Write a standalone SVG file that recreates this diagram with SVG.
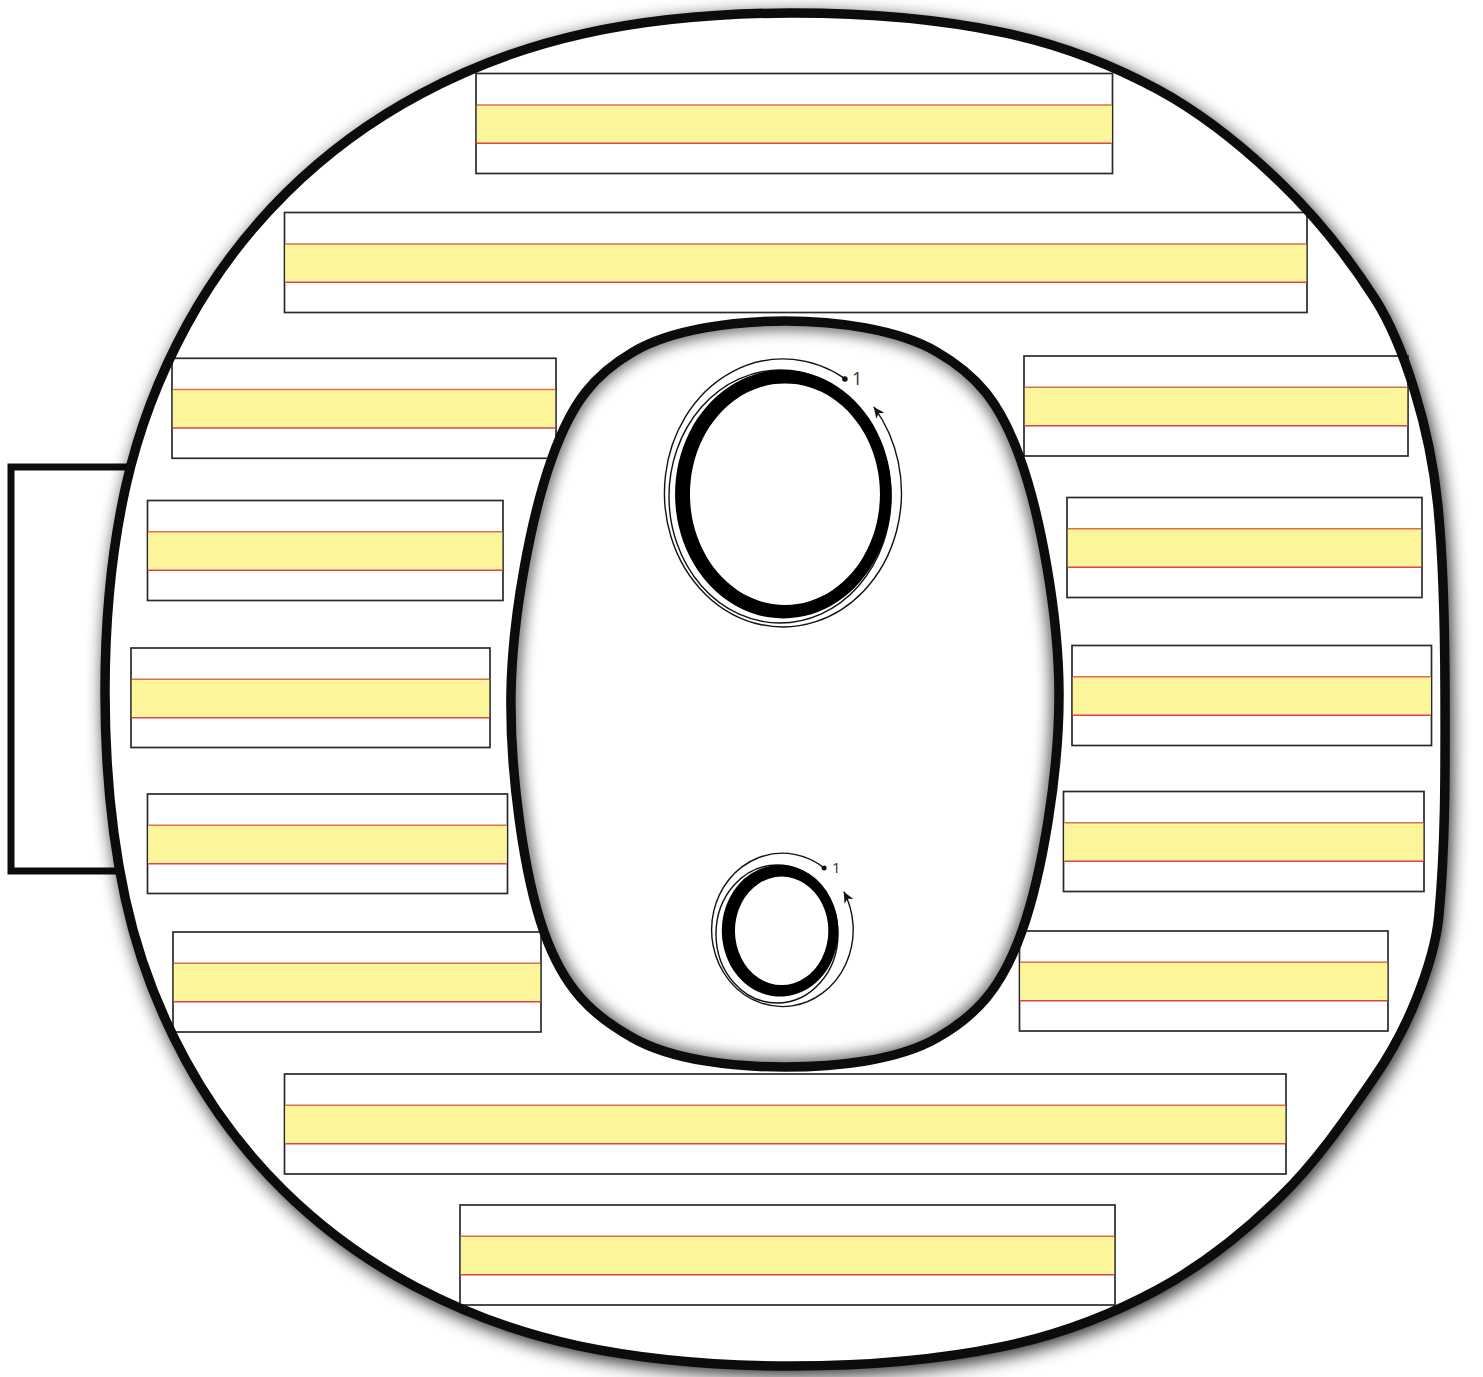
<svg xmlns="http://www.w3.org/2000/svg" width="1483" height="1377" viewBox="0 0 1483 1377">
<style>
.box{fill:#fff;stroke:#2a2a2a;stroke-width:1.7}
.band{fill:#fdf59a}
.rt{stroke:#d9704e;stroke-width:1.6}
.rb{stroke:#e0404a;stroke-width:1.5}
.ostroke{fill:none;stroke:#0c0c0c;stroke-width:9.5}
.thin{fill:none;stroke:#111;stroke-width:1.4}
.num{font-family:"Open Sans","Liberation Sans",sans-serif;fill:#333}
</style>
<defs>
<filter id="sh" x="-10%" y="-10%" width="120%" height="120%">
<feGaussianBlur in="SourceAlpha" stdDeviation="9"/>
<feOffset dx="3" dy="5" result="b"/>
<feComponentTransfer><feFuncA type="linear" slope="0.85"/></feComponentTransfer>
</filter>
<filter id="ish" x="-10%" y="-10%" width="120%" height="120%">
<feGaussianBlur in="SourceAlpha" stdDeviation="8"/>
<feComponentTransfer><feFuncA type="linear" slope="0.75"/></feComponentTransfer>
</filter>
<marker id="ah" markerWidth="12" markerHeight="10" refX="11" refY="5" orient="auto" markerUnits="userSpaceOnUse">
<path d="M0,0 L11,5 L0,10 L3,5 Z" fill="#111"/>
</marker>
<path id="outerP" d="M790,13 C860.8,12.8 933.4,18 1002.4,32.3 C1055.9,43.4 1109.7,63.5 1157.6,89.4 C1202.4,113.6 1243.9,147.3 1280.7,182.8 C1316.3,217 1348.1,257 1374.7,298.4 C1392.8,326.5 1404.9,359.3 1414.7,391.4 C1425.9,427.8 1433.8,465.9 1437.7,503.9 C1444,565.5 1444.8,627.9 1445,690 C1445.2,765.5 1445.8,841.6 1438.8,916.3 C1436.1,944.9 1426.7,973.2 1416,999.8 C1405,1027.2 1390.6,1053.9 1373.8,1078.3 C1345.5,1119.5 1316.3,1161.7 1280.7,1196.5 C1244.2,1232.2 1202.4,1265.5 1157.6,1289.7 C1109.6,1315.6 1055.9,1335.6 1002.4,1346.7 C933.4,1361 860.8,1366.1 790,1366 C719.5,1365.9 647.2,1360.4 578.5,1345.9 C522.3,1334 465.8,1313.3 415.1,1286.6 C367.4,1261.4 321.6,1228 283.2,1190.1 C245,1152.4 211.1,1107.2 185.5,1060 C158.4,1010.1 137.4,954.3 125.3,898.7 C110.6,831 104.9,759.5 105,690 C105.1,622.1 111,552.4 125.8,486.4 C138.3,430.6 159.8,374.5 187.2,324.4 C213.4,276.5 247.8,230.8 286.6,192.5 C325.5,154 371.8,120 420.1,94.2 C470.9,67 527.6,46 584,33.6 C650.9,18.9 721.3,13.2 790,13 Z"/>
<path id="holeP" d="M785,321 C835.7,321 897.8,329.2 937,352 C976.2,374.8 999.7,401.2 1020,458 C1040.3,514.8 1058.7,614.2 1059,693 C1059.3,771.8 1042.3,873.5 1022,931 C1001.7,988.5 976.5,1015.3 937,1038 C897.5,1060.7 835.7,1067 785,1067 C734.3,1067 673.2,1060.5 633,1038 C592.8,1015.5 564.3,989.5 544,932 C523.7,874.5 509.7,772 511,693 C512.3,614 531.7,514.8 552,458 C572.3,401.2 594.2,374.8 633,352 C671.8,329.2 734.3,321 785,321 Z"/>
<clipPath id="holeClip"><use href="#holeP"/></clipPath>
</defs>
<rect width="1483" height="1377" fill="#fff"/>
<g id="tab"><rect x="11" y="467" width="130" height="404" fill="#fff" stroke="#0c0c0c" stroke-width="7"/></g>
<g id="letter-shadow" filter="url(#sh)">
<use href="#outerP" fill="#000" stroke="#000" stroke-width="9"/>
</g>
<g id="letter-fill">
<use href="#outerP" fill="#fff"/>
<g clip-path="url(#holeClip)"><use href="#holeP" fill="none" stroke="#000" stroke-width="14" filter="url(#ish)"/></g>
</g>
<g id="writing-lines">
<g id="line1"><rect class="box" x="476" y="73.5" width="636.5" height="100"/><rect class="band" x="476.8" y="105" width="635" height="38.5"/><line class="rt" x1="476.8" y1="105" x2="1111.7" y2="105"/><line class="rb" x1="476.8" y1="143.3" x2="1111.7" y2="143.3"/></g>
<g id="line2"><rect class="box" x="284.5" y="212.5" width="1022.5" height="100"/><rect class="band" x="285.3" y="244" width="1021" height="38.5"/><line class="rt" x1="285.3" y1="244" x2="1306.2" y2="244"/><line class="rb" x1="285.3" y1="282.3" x2="1306.2" y2="282.3"/></g>
<g id="line3"><rect class="box" x="172" y="358.3" width="384" height="100"/><rect class="band" x="172.8" y="389.5" width="382.4" height="38.5"/><line class="rt" x1="172.8" y1="389.5" x2="555.2" y2="389.5"/><line class="rb" x1="172.8" y1="428" x2="555.2" y2="428"/></g>
<g id="line4"><rect class="box" x="1024" y="356" width="384" height="100"/><rect class="band" x="1024.8" y="387.3" width="382.4" height="38.5"/><line class="rt" x1="1024.8" y1="387.3" x2="1407.2" y2="387.3"/><line class="rb" x1="1024.8" y1="425.8" x2="1407.2" y2="425.8"/></g>
<g id="line5"><rect class="box" x="147.5" y="500.5" width="355.5" height="100"/><rect class="band" x="148.3" y="531.7" width="354" height="38.5"/><line class="rt" x1="148.3" y1="531.7" x2="502.2" y2="531.7"/><line class="rb" x1="148.3" y1="570.2" x2="502.2" y2="570.2"/></g>
<g id="line6"><rect class="box" x="1067" y="497.5" width="355" height="100"/><rect class="band" x="1067.8" y="528.7" width="353.4" height="38.5"/><line class="rt" x1="1067.8" y1="528.7" x2="1421.2" y2="528.7"/><line class="rb" x1="1067.8" y1="567.2" x2="1421.2" y2="567.2"/></g>
<g id="line7"><rect class="box" x="131" y="648" width="359" height="99.5"/><rect class="band" x="131.8" y="679.2" width="357.4" height="38.5"/><line class="rt" x1="131.8" y1="679.2" x2="489.2" y2="679.2"/><line class="rb" x1="131.8" y1="717.7" x2="489.2" y2="717.7"/></g>
<g id="line8"><rect class="box" x="1072" y="645.5" width="359.5" height="100"/><rect class="band" x="1072.8" y="676.7" width="358" height="38.5"/><line class="rt" x1="1072.8" y1="676.7" x2="1430.7" y2="676.7"/><line class="rb" x1="1072.8" y1="715.2" x2="1430.7" y2="715.2"/></g>
<g id="line9"><rect class="box" x="147.5" y="794" width="360" height="99.5"/><rect class="band" x="148.3" y="825.2" width="358.4" height="38.5"/><line class="rt" x1="148.3" y1="825.2" x2="506.7" y2="825.2"/><line class="rb" x1="148.3" y1="863.7" x2="506.7" y2="863.7"/></g>
<g id="line10"><rect class="box" x="1063.5" y="791.5" width="360.5" height="100"/><rect class="band" x="1064.3" y="822.7" width="359" height="38.5"/><line class="rt" x1="1064.3" y1="822.7" x2="1423.2" y2="822.7"/><line class="rb" x1="1064.3" y1="861.2" x2="1423.2" y2="861.2"/></g>
<g id="line11"><rect class="box" x="173" y="932" width="368" height="100"/><rect class="band" x="173.8" y="963.3" width="366.4" height="38.5"/><line class="rt" x1="173.8" y1="963.3" x2="540.2" y2="963.3"/><line class="rb" x1="173.8" y1="1001.8" x2="540.2" y2="1001.8"/></g>
<g id="line12"><rect class="box" x="1019.5" y="931" width="368.5" height="100"/><rect class="band" x="1020.3" y="962.3" width="367" height="38.5"/><line class="rt" x1="1020.3" y1="962.3" x2="1387.2" y2="962.3"/><line class="rb" x1="1020.3" y1="1000.8" x2="1387.2" y2="1000.8"/></g>
<g id="line13"><rect class="box" x="284.5" y="1074" width="1001.5" height="100"/><rect class="band" x="285.3" y="1105.2" width="1000" height="38.5"/><line class="rt" x1="285.3" y1="1105.2" x2="1285.2" y2="1105.2"/><line class="rb" x1="285.3" y1="1143.7" x2="1285.2" y2="1143.7"/></g>
<g id="line14"><rect class="box" x="460" y="1205" width="655" height="100"/><rect class="band" x="460.8" y="1236.2" width="653.4" height="38.5"/><line class="rt" x1="460.8" y1="1236.2" x2="1114.2" y2="1236.2"/><line class="rb" x1="460.8" y1="1274.7" x2="1114.2" y2="1274.7"/></g>
</g>
<g id="letter-outline">
<use href="#outerP" class="ostroke"/>
<use href="#holeP" class="ostroke"/>
</g>
<g id="guide-large">
<ellipse class="thin" cx="780" cy="496.5" rx="111" ry="126.5"/>
<path d="M783.3,370 A108.3,124.2 0 1,0 783.4,370 Z M785,383.4 A95,110.8 0 1,1 784.9,383.4 Z" fill="#000" fill-rule="evenodd"/>
</g>
<g id="guide-small">
<ellipse class="thin" cx="777" cy="934" rx="61" ry="69"/>
<path d="M780,865 A58.3,65.8 0 1,0 780.1,865 Z M781.7,876.6 A46.7,54.2 0 1,1 781.6,876.6 Z" fill="#000" fill-rule="evenodd"/>
</g>
<g id="connectors">
<path class="thin" d="M844.9,378.7 A118.5,134 0 1,0 873.8,406.9" marker-end="url(#ah)"/>
<circle cx="844.9" cy="379" r="2.8" fill="#111"/>
<path class="thin" d="M824.1,867.9 A70.8,76.7 0 1,0 843.8,891.7" marker-end="url(#ah)"/>
<circle cx="824.1" cy="868" r="2.5" fill="#111"/>
</g>
<g id="labels">
<text class="num" x="852" y="385" font-size="18">1</text>
<text class="num" x="832" y="873" font-size="15">1</text>
</g>
</svg>
